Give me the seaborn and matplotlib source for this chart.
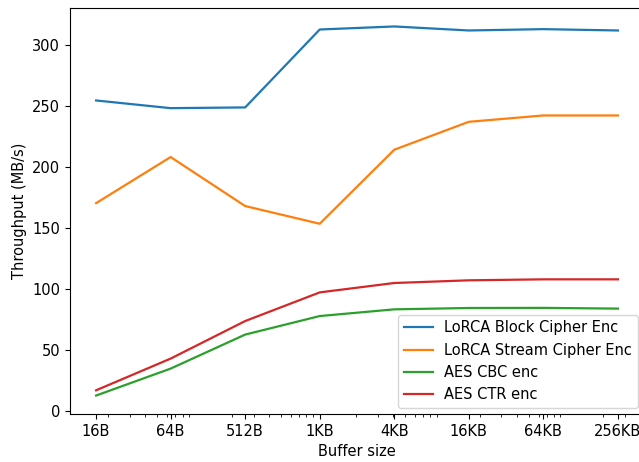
import matplotlib
matplotlib.use("Agg")
import matplotlib.pyplot as plt
import seaborn as sns
import pandas as pd

# Buffer sizes in bytes (powers of 4) and their tick labels
buffer_bytes = [16, 64, 256, 1024, 4096, 16384, 65536, 262144]
tick_labels = ["16B", "64B", "512B", "1KB", "4KB", "16KB", "64KB", "256KB"]

series_names = ["LoRCA Block Cipher Enc", "LoRCA Stream Cipher Enc",
                "AES CBC enc", "AES CTR enc"]
lorca_block = [254.9, 248.6, 249.2, 313.1, 315.6, 312.3, 313.4, 312.3]
lorca_stream = [170.7, 208.5, 168.3, 153.8, 214.5, 237.4, 242.6, 242.6]
aes_cbc = [12.9, 35.0, 62.9, 78.1, 83.6, 84.7, 84.8, 84.2]
aes_ctr = [17.2, 43.2, 74.0, 97.5, 105.2, 107.4, 108.2, 108.2]

frames = []
for name, vals in zip(series_names, [lorca_block, lorca_stream, aes_cbc, aes_ctr]):
    frames.append(pd.DataFrame({"size": buffer_bytes, "throughput": vals, "series": name}))
df = pd.concat(frames, ignore_index=True)

plt.rcParams["font.size"] = 10.5

fig = plt.figure(figsize=(6.39, 4.62), dpi=100)
ax = fig.add_axes([70 / 639, 48 / 462, (644 - 70) / 639, (414 - 8) / 462])

sns.lineplot(data=df, x="size", y="throughput", hue="series",
             hue_order=series_names, palette="tab10", ax=ax, linewidth=1.6)

ax.set_xscale("log")
ax.set_xticks(buffer_bytes)
ax.set_xticklabels(tick_labels)
ax.set_xlabel("Buffer size")
ax.set_ylabel("Throughput (MB/s)")
ax.legend(loc="lower right", title=None, borderaxespad=0.4)

fig.savefig("out.png", dpi=100)
